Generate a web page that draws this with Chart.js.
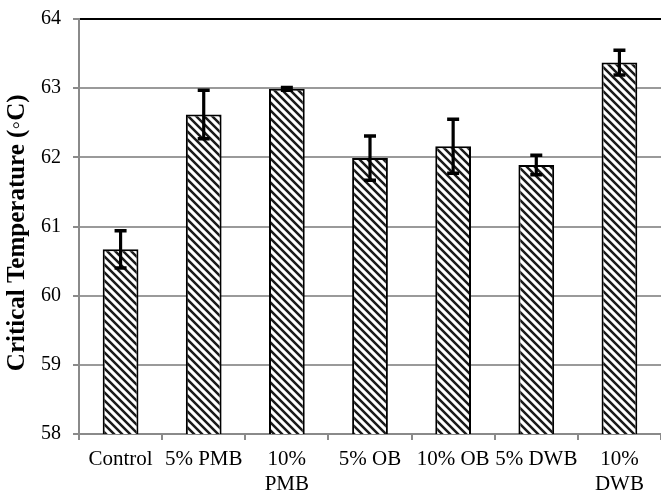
<!DOCTYPE html>
<html>
<head>
<meta charset="utf-8">
<script src="https://cdn.jsdelivr.net/npm/chart.js@4/dist/chart.umd.min.js"></script>
<style>
html,body{margin:0;padding:0;background:#fff;overflow:hidden;}
#wrap{width:661px;height:490px;position:relative;}
</style>
</head>
<body>
<div id="wrap"><canvas id="c" width="661" height="490"></canvas></div>
<script>
const categories = [["Control"], ["5% PMB"], ["10%", "PMB"], ["5% OB"], ["10% OB"], ["5% DWB"], ["10%", "DWB"]];
const meanValues = [60.67, 62.62, 62.99, 61.99, 62.16, 61.89, 63.37];
const errorValues = [0.27, 0.35, 0.02, 0.32, 0.39, 0.14, 0.18];
const yTicks = [58, 59, 60, 61, 62, 63, 64];
const yTitle = "Critical Temperature (\u25E6C)";

function hatch() {
  const s = 8;
  const c = document.createElement('canvas');
  c.width = s; c.height = s;
  const g = c.getContext('2d');
  g.fillStyle = '#fff';
  g.fillRect(0, 0, s, s);
  g.strokeStyle = '#1a1a1a';
  g.lineWidth = 2.5;
  g.beginPath();
  for (let k = -1; k <= 1; k++) {
    g.moveTo(k * s - 1, -1);
    g.lineTo(k * s + s + 1, s + 1);
  }
  g.stroke();
  return document.getElementById('c').getContext('2d').createPattern(c, 'repeat');
}

const errorBars = {
  id: 'errorBars',
  afterDatasetsDraw(chart) {
    const ctx = chart.ctx;
    const meta = chart.getDatasetMeta(0);
    const y = chart.scales.y;
    ctx.save();
    ctx.strokeStyle = '#000';
    meta.data.forEach((bar, i) => {
      const v = meanValues[i], e = errorValues[i];
      const yt = y.getPixelForValue(v + e);
      const yb = y.getPixelForValue(v - e);
      ctx.lineWidth = 3.2;
      ctx.beginPath();
      ctx.moveTo(bar.x, yt);
      ctx.lineTo(bar.x, yb);
      ctx.stroke();
      ctx.lineWidth = 3.5;
      ctx.beginPath();
      ctx.moveTo(bar.x - 6, yt);
      ctx.lineTo(bar.x + 6, yt);
      ctx.moveTo(bar.x - 6, yb);
      ctx.lineTo(bar.x + 6, yb);
      ctx.stroke();
    });
    ctx.restore();
  }
};

const font = 'Liberation Serif';
new Chart(document.getElementById('c'), {
  type: 'bar',
  data: {
    labels: categories,
    datasets: [{
      data: meanValues,
      backgroundColor: hatch(),
      borderColor: '#000',
      borderWidth: 2,
      barPercentage: 0.43,
      categoryPercentage: 1
    }]
  },
  options: {
    responsive: false,
    animation: false,
    layout: { padding: { top: 19, right: 0, left: 0, bottom: 0 } },
    plugins: { legend: { display: false }, tooltip: { enabled: false } },
    scales: {
      x: {
        afterFit(s) { s.height = 56; s.paddingLeft = 0; s.paddingRight = 0; },
        border: { color: '#8a8a8a', width: 2 },
        grid: { drawOnChartArea: false, drawTicks: true, tickLength: 6, color: '#8a8a8a', lineWidth: 2, offset: true },
        ticks: { color: '#000', font: { family: font, size: 21, lineHeight: 1.2 }, padding: 7, maxRotation: 0, autoSkip: false }
      },
      y: {
        min: 58, max: 64,
        afterFit(s) { s.width = 79; s.paddingTop = 0; s.paddingBottom = 0; },
        afterBuildTicks(s) { s.ticks = yTicks.map(v => ({ value: v })); },
        border: { color: '#8a8a8a', width: 2 },
        grid: {
          color: c => (c.tick && c.tick.value === 64) ? '#000' : '#9a9a9a',
          tickColor: '#8a8a8a',
          lineWidth: 2,
          tickLength: 6
        },
        ticks: { color: '#000', font: { family: font, size: 20 }, padding: 12 },
        title: {
          display: true, text: yTitle + "\u2002", color: '#000',
          font: { family: font, size: 25, weight: 'bold' },
          padding: { top: 3, bottom: 0 }
        }
      }
    }
  },
  plugins: [errorBars]
});
</script>
</body>
</html>
